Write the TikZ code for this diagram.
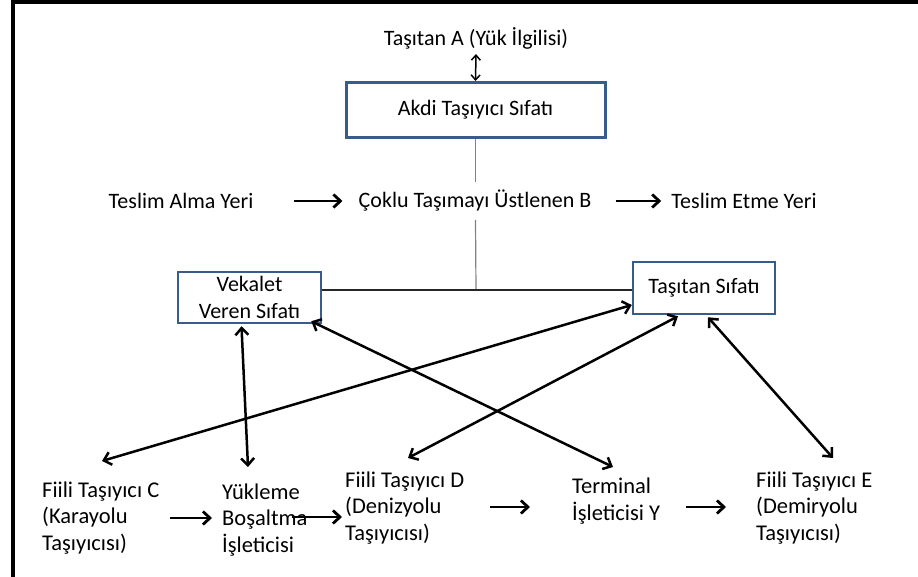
\documentclass[tikz,border=0pt]{standalone}
\usepackage{fontspec}
\setmainfont{Carlito}
\usetikzlibrary{arrows.meta,calc}
\definecolor{boxblue}{RGB}{56,93,138}
\definecolor{glinecol}{RGB}{130,130,130}
\begin{document}
\begin{tikzpicture}[x=1pt,y=-1pt,
  txt/.style={inner sep=0pt, font=\fontsize{22}{26.5}\selectfont, text=black},
  blk/.style={inner sep=0pt, text=black, font=\fontsize{22.5}{26.5}\selectfont, align=left, anchor=base west},
  box/.style={draw=boxblue, line width=2.5pt, fill=white, txt, align=center},
  barb/.tip={Straight Barb[length=7pt,width=13pt]},
  harr/.style={line width=2.8pt, -barb},
  darr/.style={line width=2.5pt, barb-barb},
  varr/.style={line width=1.5pt, {Straight Barb[length=5pt,width=9pt]}-{Straight Barb[length=5pt,width=9pt]}},
  gline/.style={draw=glinecol, line width=1.2pt},
  hline/.style={draw=black!85, line width=1.3pt},
  frame/.style={line width=4pt, draw=black}
]
\useasboundingbox (0,0) rectangle (918,577);
% frame
\draw[frame] (13,0) -- (13,577);
\draw[frame] (11,2.5) -- (918,2.5);

% top
\node[txt] (A) at (476,38) {Taşıtan A (Yük İlgilisi)};
\node[box, line width=3pt, minimum width=259pt, minimum height=55pt] (akdi) at (475.5,110) {Akdi Taşıyıcı Sıfatı};
\draw[varr] ([yshift=-5pt]A.south) -- (akdi.north);

% middle row
\node[txt] (tal) at (181,201) {Teslim Alma Yeri};
\node[txt, inner xsep=2pt, inner ysep=8pt] (cok) at (475,201) {Çoklu Taşımayı Üstlenen B};
\node[txt] (tem) at (744,201) {Teslim Etme Yeri};
\draw[harr] ([xshift=40pt]tal.east) -- ([xshift=-14pt]cok.west);
\draw[harr] ([xshift=22pt]cok.east) -- ([xshift=-10pt]tem.west);

% boxes
\node[box, minimum width=143pt, minimum height=51pt, inner sep=1pt] (vek) at (249.5,297.5) {Vekalet\\Veren Sıfatı};
\node[box, minimum width=142pt, minimum height=52pt] (tas) at (704,288) {Taşıtan Sıfatı};
\coordinate (jn) at (476,290);
\draw[gline] (akdi.south) -- (akdi.south |- cok.north);
\draw[gline] (akdi.south |- cok.south) -- (jn);
\draw[hline] (vek.east |- jn) -- (tas.west |- jn);

% bottom blocks (anchor: baseline of last line)
\node[blk] (fc) at (42,550) {Fiili Taşıyıcı C\\(Karayolu\\Taşıyıcısı)};
\node[blk] (yk) at (222,552) {Yükleme\\Boşaltma\\İşleticisi};
\node[blk] (fd) at (345,540) {Fiili Taşıyıcı D\\(Denizyolu\\Taşıyıcısı)};
\node[blk] (tr) at (572,520) {Terminal\\İşleticisi Y};
\node[blk] (fe) at (756,540) {Fiili Taşıyıcı E\\(Demiryolu\\Taşıyıcısı)};

% small arrows
\draw[harr] ([xshift=128pt,yshift=32pt]fc.base west) -- ([xshift=-10pt,yshift=34pt]yk.base west);
\draw[harr] ([xshift=70pt,yshift=35pt]yk.base west) -- ([xshift=-3pt,yshift=23pt]fd.base west);
\draw[harr] ([xshift=145pt,yshift=33pt]fd.base west) -- ([xshift=-42pt,yshift=13pt]tr.base west);
\draw[harr] ([xshift=114pt,yshift=13pt]tr.base west) -- ([xshift=-30pt,yshift=33pt]fe.base west);

% long double arrows
\draw[darr] ([yshift=-17pt]tas.west) -- ([xshift=60pt,yshift=89pt]fc.base west);
\draw[darr] ([xshift=-8pt,yshift=-2pt]vek.south) -- ([xshift=26pt,yshift=85pt]yk.base west);
\draw[darr] ([xshift=-11pt,yshift=3pt]vek.south east) -- ([xshift=41pt,yshift=53pt]tr.base west);
\draw[darr] ([xshift=-26pt,yshift=-1pt]tas.south) -- ([xshift=63pt,yshift=82pt]fd.base west);
\draw[darr] ([xshift=4pt,yshift=-2pt]tas.south) -- ([xshift=77pt,yshift=82pt]fe.base west);
\end{tikzpicture}
\end{document}
